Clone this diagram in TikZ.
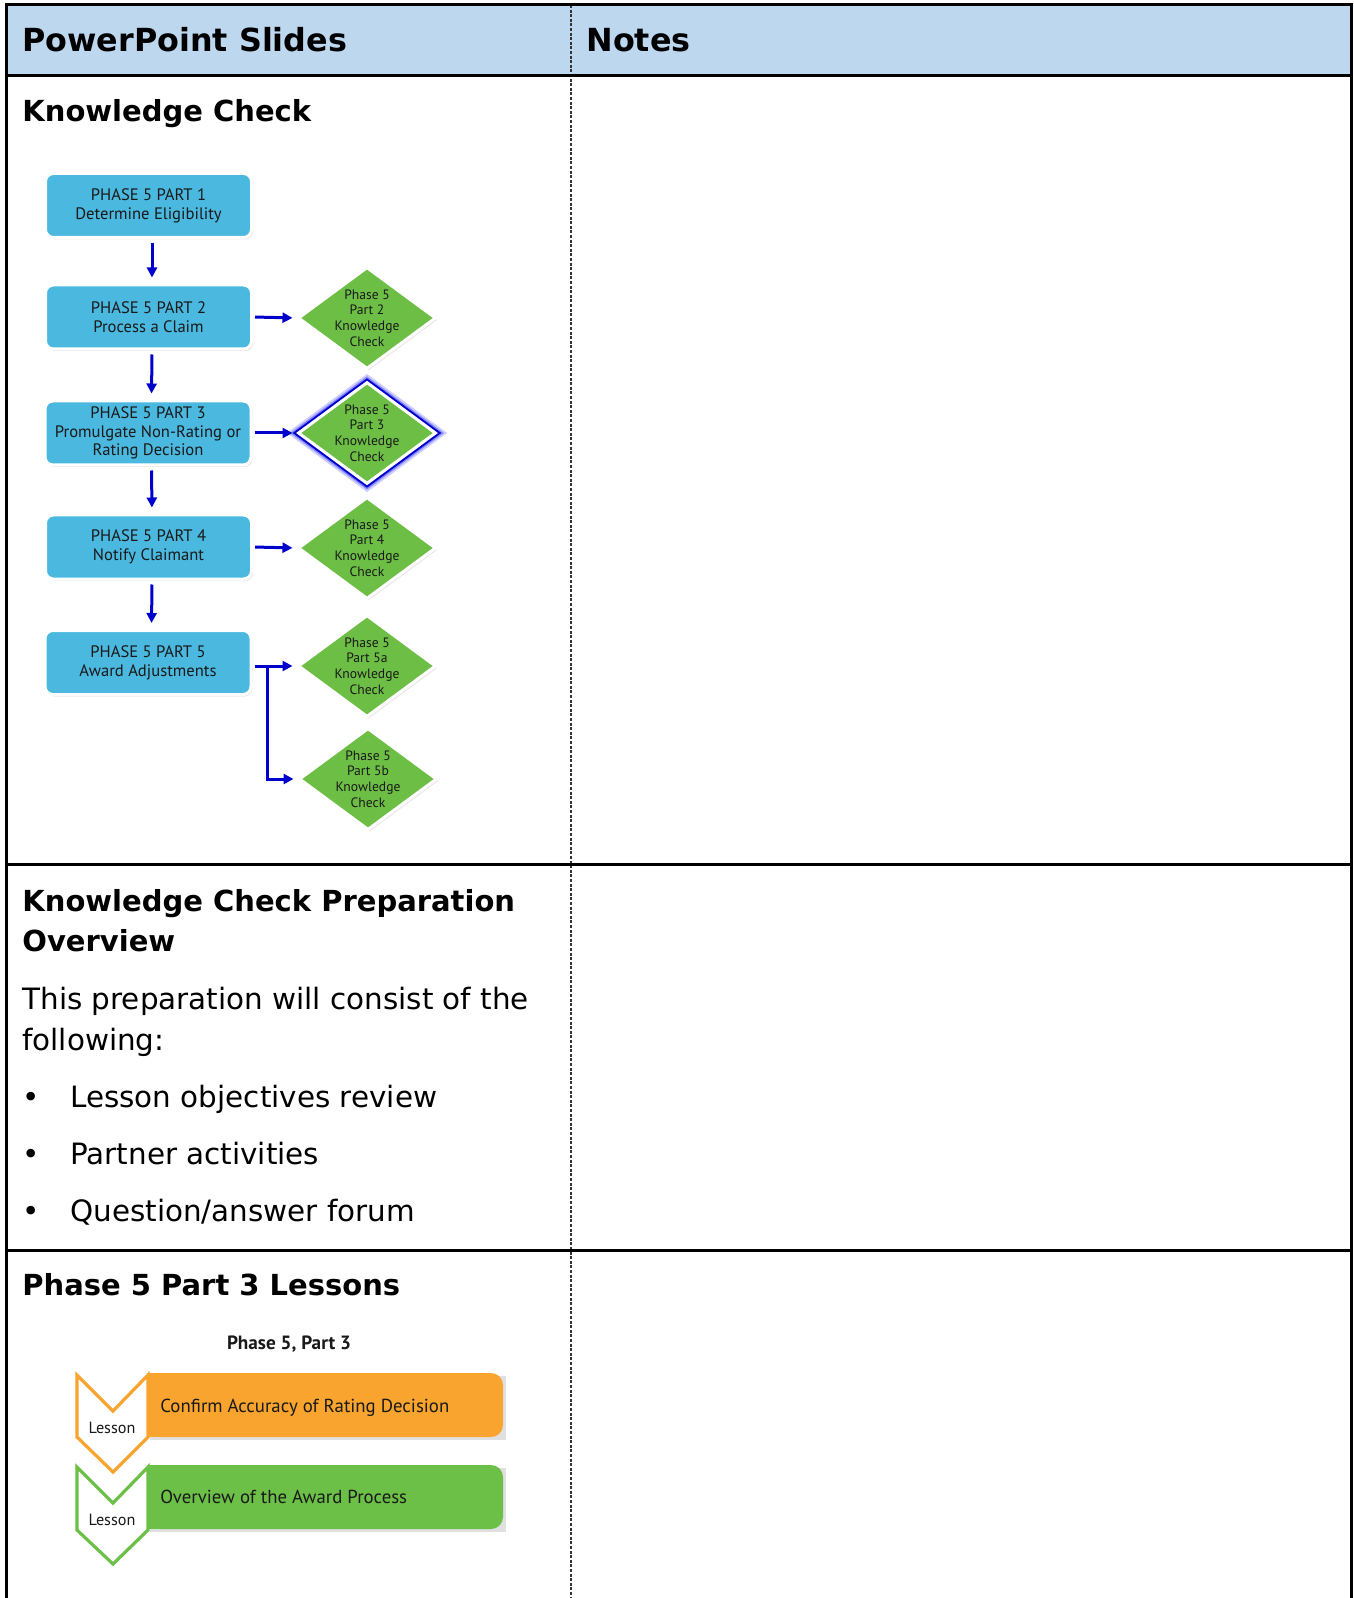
\documentclass[tikz,border=0pt]{standalone}
\usepackage{fontspec}
\setmainfont{DejaVu Sans}
\newfontfamily\chartfont{PT Sans}
\usetikzlibrary{shapes.geometric,arrows.meta,shadows}

\definecolor{headblue}{HTML}{BDD7EE}
\definecolor{phaseblue}{HTML}{4AB8DF}
\definecolor{checkgreen}{HTML}{6DBE45}
\definecolor{flowblue}{HTML}{0000CC}
\definecolor{glowblue}{HTML}{3333FF}
\definecolor{lessonorange}{HTML}{F8A42E}
\definecolor{lessongreen}{HTML}{6CBF47}

\tikzset{
  rule/.style={line width=1.5pt, black},
  divider/.style={line width=1pt, black!80, dash pattern=on 1.5pt off 0.8pt},
  tablehead/.style={anchor=base west, inner sep=0pt, font=\bfseries\fontsize{15.9}{19}\selectfont},
  heading/.style={anchor=base west, inner sep=0pt, font=\bfseries\fontsize{14.5}{17}\selectfont},
  body/.style={anchor=base west, inner sep=0pt, font=\fontsize{14.7}{17}\selectfont},
  phase/.style={rectangle, rounded corners=4pt, fill=phaseblue, draw=white, line width=1.5pt,
    minimum width=103pt, minimum height=32pt, align=center, inner sep=0pt,
    text=black!90, font=\chartfont\fontsize{8.3}{9.4}\selectfont,
    drop shadow={opacity=0.2, shadow xshift=0.8pt, shadow yshift=-1pt}},
  check/.style={diamond, fill=checkgreen, draw=white, line width=1.5pt,
    minimum width=69pt, minimum height=51pt, inner sep=0pt,
    drop shadow={opacity=0.2, shadow xshift=0.8pt, shadow yshift=-1pt}},
  checktext/.style={align=center, inner sep=0pt, text=black!90,
    font=\chartfont\fontsize{6.8}{7.85}\selectfont},
  flow/.style={draw=flowblue, line width=1.5pt, -{Triangle[length=5pt,width=5pt]},
    shorten >=2pt, shorten <=1pt},
  chevron/.style={fill=white, line width=1.6pt, line join=miter},
  lessontext/.style={inner sep=0pt, text=black!90, font=\chartfont\fontsize{9.4}{11}\selectfont},
  tagtext/.style={lessontext, anchor=base, font=\chartfont\fontsize{8.1}{9}\selectfont}
}

\begin{document}
\begin{tikzpicture}[x=0.5pt, y=-0.5pt]
  \useasboundingbox (0,0) rectangle (1353,1598);

  % table
  \fill[headblue] (6,5) rectangle (1351,76);
  \draw[divider] (571,5) -- (571,1598);
  \draw[rule] (6,1598) -- (6,5) -- (1351,5) -- (1351,1598);
  \foreach \y in {76, 864, 1250} \draw[rule] (6,\y) -- (1351,\y);

  \node[tablehead] (slideshead) at (22,52) {PowerPoint Slides};
  \node[tablehead] (noteshead) at (586,52) {Notes};

  % row 1: knowledge check flow
  \node[heading] (kchead) at (22,122) {Knowledge Check};

  \node[phase] (part1) at (148.5,205.5) {PHASE 5 PART 1\\Determine Eligibility};
  \node[phase] (part2) at (148.5,317) {PHASE 5 PART 2\\Process a Claim};
  \node[phase] (part3) at (148,433) {PHASE 5 PART 3\\Promulgate Non-Rating or\\Rating Decision};
  \node[phase] (part4) at (148.5,547) {PHASE 5 PART 4\\Notify Claimant};
  \node[phase] (part5) at (148,662.5) {PHASE 5 PART 5\\Award Adjustments};

  \foreach \n/\x/\y in {2/367/318, 4/367/548, 5a/367/666, 5b/368/779} {
    \node[check] (kc\n) at (\x,\y) {};
    \node[checktext] (kc\n txt) at (kc\n) {Phase 5\\Part \n\\Knowledge\\Check};
  }
  \node[check, preaction={draw=glowblue!25, line width=7pt},
    preaction={draw=glowblue!60, line width=5pt},
    preaction={draw=flowblue, line width=3.5pt}] (kc3) at (367,433) {};
  \node[checktext] (kc3txt) at (kc3) {Phase 5\\Part 3\\Knowledge\\Check};

  \foreach \a/\b in {part1/part2, part2/part3, part3/part4, part4/part5}
    \draw[flow, shorten <=2pt, shorten >=3pt] ([xshift=1.75pt]\a.south) -- ([xshift=1.75pt]\b.north);
  \draw[flow] (part2.east) -- (kc2.west);
  \draw[flow] (part3.east) -- (kc3.west);
  \draw[flow] (part4.east) -- (kc4.west);
  \draw[flow] (part5.east |- kc5a) -- (kc5a.west);
  \coordinate (fork) at (267,666);
  \draw[flow, shorten <=0pt] (fork) |- (kc5b.west);

  % row 2: preparation overview
  \node[heading] (prephead) at (22,911) {Knowledge Check Preparation};
  \node[heading] (prephead2) at (22,951) {Overview};
  \node[body] (intro) at (22,1009) {This preparation will consist of the};
  \node[body] (intro2) at (22,1050) {following:};
  \foreach \y/\t [count=\i] in {1107/Lesson objectives review, 1164/Partner activities,
      1221/Question\slash answer forum} {
    \node[body] (dot\i) at (22,\y) {•};
    \node[body] (item\i) at (70,\y) {\t};
  }

  % row 3: lessons
  \node[heading] (p3head) at (22,1295) {Phase 5 Part 3 Lessons};
  \node[lessontext, anchor=base, font=\chartfont\bfseries\fontsize{9.6}{11}\selectfont]
    (p3title) at (289,1349) {Phase 5, Part 3};

  \fill[black!12] (150,1376) rectangle (506,1440);
  \fill[lessonorange, rounded corners=6pt] (148,1373) rectangle (503,1437);
  \fill[lessonorange] (148,1373) rectangle (170,1437);
  \draw[chevron, draw=lessonorange] (77,1375) -- (113,1411) -- (148,1375)
    -- (148,1437) -- (113,1472) -- (77,1437) -- cycle;

  \fill[black!12] (150,1468) rectangle (506,1532);
  \fill[lessongreen, rounded corners=6pt] (148,1465) rectangle (503,1529);
  \fill[lessongreen] (148,1465) rectangle (170,1529);
  \draw[chevron, draw=lessongreen] (77,1467) -- (113,1503) -- (148,1467)
    -- (148,1530) -- (113,1564) -- (77,1530) -- cycle;

  \node[tagtext] (tag1) at (112,1433) {Lesson};
  \node[tagtext] (tag2) at (112,1525) {Lesson};
  \node[lessontext, anchor=base west] (lesson1) at (160,1412) {Confirm Accuracy of Rating Decision};
  \node[lessontext, anchor=base west] (lesson2) at (160,1503) {Overview of the Award Process};
\end{tikzpicture}
\end{document}
